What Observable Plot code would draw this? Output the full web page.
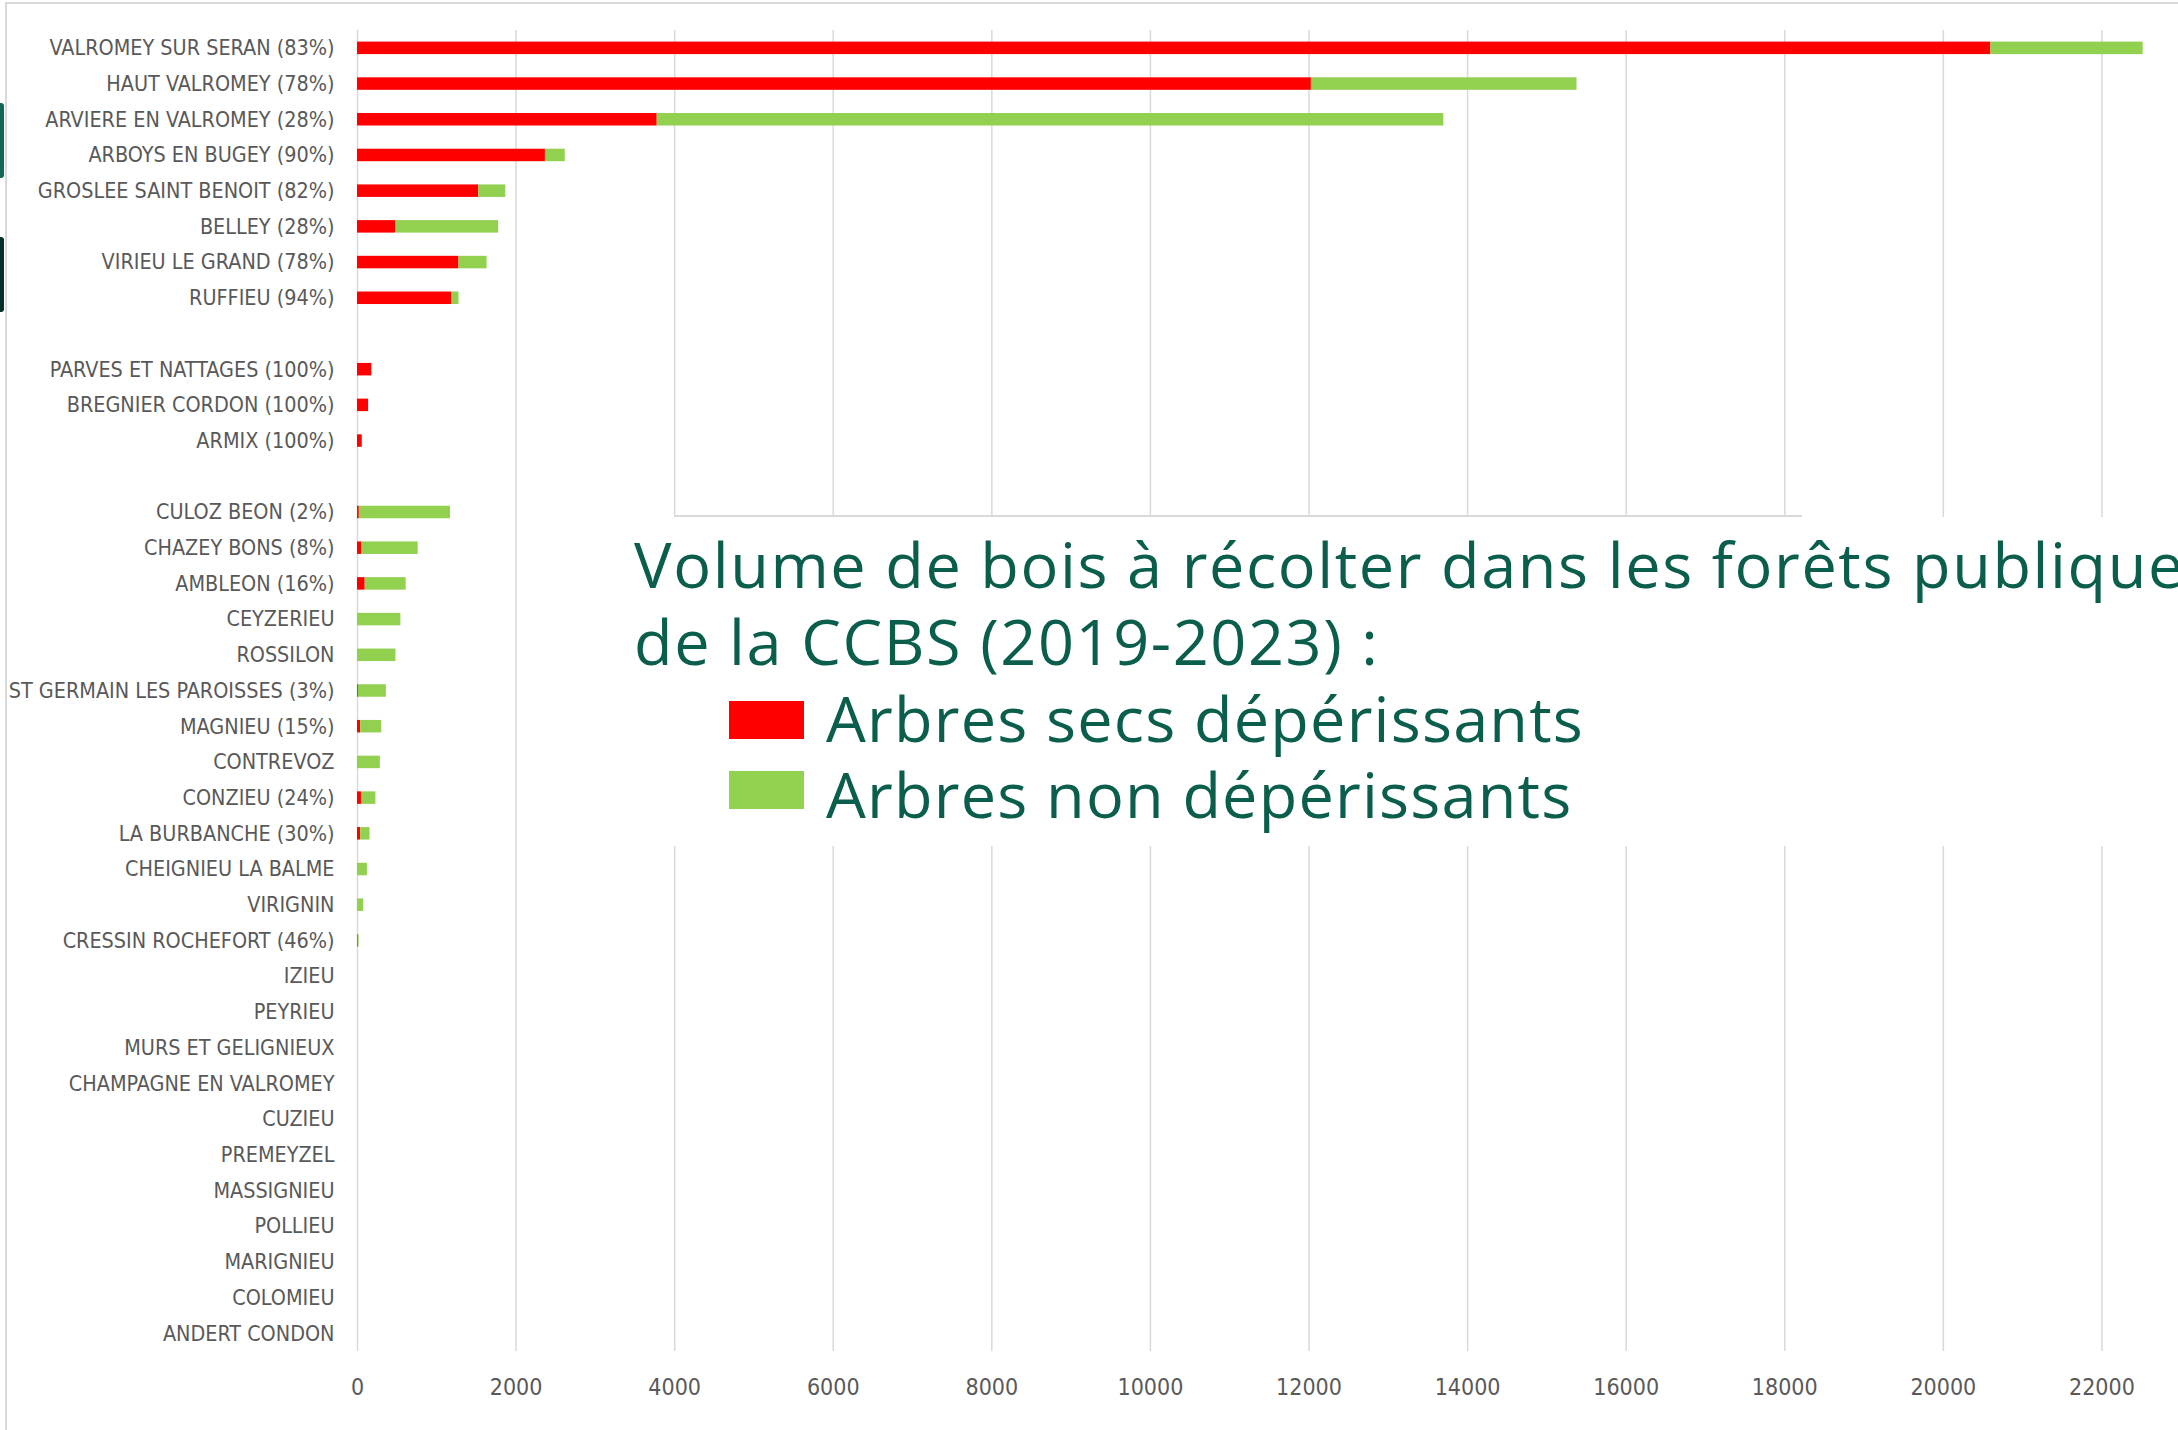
<!DOCTYPE html>
<html>
<head>
<meta charset="utf-8">
<script src="https://cdn.jsdelivr.net/npm/d3@7"></script>
<script src="https://cdn.jsdelivr.net/npm/@observablehq/plot@0.6"></script>
<style>
  html, body { margin: 0; padding: 0; background: #fff; }
  #page { position: relative; width: 2178px; height: 1430px; overflow: hidden; background: #fff; }
  #chart { position: absolute; left: 0; top: 0; }
  .ov { position: absolute; }
  .title { font-family: "Open Sans", Lato, sans-serif; font-size: 63px; line-height: 77px; letter-spacing: 1.6px; color: #0b5e4c; white-space: nowrap; }
  .leg { font-family: "Open Sans", Lato, sans-serif; font-size: 63px; line-height: 76px; letter-spacing: 1.2px; color: #0b5e4c; white-space: nowrap; }
  .sw { width: 75px; height: 38px; }
</style>
</head>
<body>
<div id="page">
  <div id="chart"></div>
  <div class="ov" style="left:5px;top:2px;width:2400px;height:1600px;border-left:2px solid #d9d9d9;border-top:2px solid #d9d9d9;"></div>
  <div class="ov" style="left:0;top:103px;width:4px;height:75px;background:#0e6a55;border-radius:0 3px 3px 0;"></div>
  <div class="ov" style="left:0;top:237px;width:4px;height:75px;background:#052f28;border-radius:0 3px 3px 0;"></div>
  <div class="ov" style="left:620px;top:517px;width:1600px;height:329px;background:#fff;"></div>
  <div class="ov" style="left:674px;top:515px;width:1128px;height:1.5px;background:#d9d9d9;"></div>
  <div class="ov title" id="title" style="left:634px;top:525px;"></div>
  <div class="ov" style="left:729px;top:701px;"><div class="sw" id="sw1"></div></div>
  <div class="ov" style="left:729px;top:771px;"><div class="sw" id="sw2"></div></div>
  <div class="ov leg" id="legend" style="left:826px;top:680px;"></div>
</div>
<script>
// ---- data ----
const titleLines = ["Volume de bois à récolter dans les forêts publiques", "de la CCBS (2019-2023) :"];
const seriesNames = ["Arbres secs dépérissants", "Arbres non dépérissants"];
const seriesColors = ["#FF0000", "#92D050"];

const communes = [
  "VALROMEY SUR SERAN (83%)", "HAUT VALROMEY (78%)", "ARVIERE EN VALROMEY (28%)", "ARBOYS EN BUGEY (90%)",
  "GROSLEE SAINT BENOIT (82%)", "BELLEY (28%)", "VIRIEU LE GRAND (78%)", "RUFFIEU (94%)",
  "",
  "PARVES ET NATTAGES (100%)", "BREGNIER CORDON (100%)", "ARMIX (100%)",
  " ",
  "CULOZ BEON (2%)", "CHAZEY BONS (8%)", "AMBLEON (16%)", "CEYZERIEU", "ROSSILON",
  "ST GERMAIN LES PAROISSES (3%)", "MAGNIEU (15%)", "CONTREVOZ", "CONZIEU (24%)", "LA BURBANCHE (30%)",
  "CHEIGNIEU LA BALME", "VIRIGNIN", "CRESSIN ROCHEFORT (46%)", "IZIEU", "PEYRIEU", "MURS ET GELIGNIEUX",
  "CHAMPAGNE EN VALROMEY", "CUZIEU", "PREMEYZEL", "MASSIGNIEU", "POLLIEU", "MARIGNIEU", "COLOMIEU", "ANDERT CONDON"
];
const secs = [
  20600, 12030, 3780, 2370, 1530, 480, 1280, 1190,
  0,
  180, 140, 60,
  0,
  23, 55, 97, 0, 0, 11, 40, 0, 50, 40, 0, 0, 9, 0, 0, 0, 0, 0, 0, 0, 0, 0, 0, 0
];
const nonDep = [
  1920, 3350, 9920, 250, 340, 1300, 354, 90,
  0,
  0, 0, 0,
  0,
  1150, 710, 517, 547, 485, 353, 266, 288, 182, 118, 125, 78, 11, 0, 0, 0, 0, 0, 0, 0, 0, 0, 0, 0
];
const xTicks = [0, 2000, 4000, 6000, 8000, 10000, 12000, 14000, 16000, 18000, 20000, 22000];

// ---- table ----
const table = [];
communes.forEach((c, i) => {
  if (secs[i] > 0) table.push({name: c, type: seriesNames[0], value: secs[i]});
  if (nonDep[i] > 0) table.push({name: c, type: seriesNames[1], value: nonDep[i]});
});

const chart = Plot.plot({
  width: 2178,
  height: 1430,
  marginLeft: 357,
  marginRight: 29,
  marginTop: 30,
  marginBottom: 79,
  style: {fontFamily: '"Liberation Sans Narrow", "DejaVu Sans Condensed", sans-serif', fontSize: "23px", color: "#595959", background: "transparent"},
  x: {domain: [0, 22600]},
  y: {domain: communes, paddingInner: 0.65, paddingOuter: 0.325, round: false},
  color: {domain: seriesNames, range: seriesColors},
  marks: [
    Plot.gridX(xTicks, {stroke: "#d9d9d9", strokeOpacity: 1, strokeWidth: 1.5}),
    Plot.barX(table, {y: "name", x: "value", fill: "type", order: seriesNames}),
    Plot.axisX(xTicks, {tickSize: 0, tickPadding: 27, tickFormat: d => String(d), label: null, fill: "#595959", fontSize: 23}),
    Plot.axisY({tickSize: 0, tickPadding: 23, label: null, fill: "#595959", fontSize: 21.4})
  ]
});
document.getElementById("chart").appendChild(chart);

const t = document.getElementById("title");
t.appendChild(document.createTextNode(titleLines[0]));
t.appendChild(document.createElement("br"));
t.appendChild(document.createTextNode(titleLines[1]));
const lg = document.getElementById("legend");
lg.appendChild(document.createTextNode(seriesNames[0]));
lg.appendChild(document.createElement("br"));
lg.appendChild(document.createTextNode(seriesNames[1]));
document.getElementById("sw1").style.background = seriesColors[0];
document.getElementById("sw2").style.background = seriesColors[1];
</script>
</body>
</html>
